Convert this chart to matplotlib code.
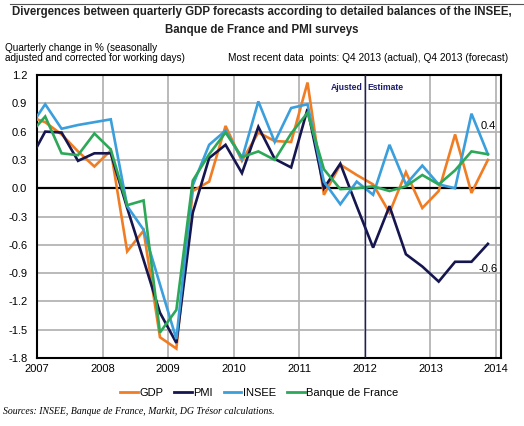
import numpy as np
import matplotlib.pyplot as plt
from matplotlib.lines import Line2D

plt.rcParams['font.family'] = ['Liberation Sans', 'DejaVu Sans']

# quarterly points, plotted mid-quarter (Q4 2006 ... Q4 2013)
quarters = np.arange(2006.875, 2014.0, 0.25)

gdp = [0.76, 0.70, 0.57, 0.39, 0.23, 0.40, -0.67, -0.45, -1.58, -1.70, -0.03, 0.07, 0.66, 0.29,
       0.59, 0.50, 0.49, 1.12, -0.07, 0.25, 0.14, 0.04, -0.26, 0.17, -0.21, -0.03, 0.57, -0.05, 0.30]
pmi = [0.28, 0.60, 0.59, 0.29, 0.37, 0.37, -0.21, -0.76, -1.32, -1.64, -0.26, 0.32, 0.46, 0.16,
       0.65, 0.31, 0.22, 0.84, 0.00, 0.26, -0.19, -0.63, -0.19, -0.70, -0.83, -0.99, -0.78, -0.78, -0.59]
insee = [0.63, 0.89, 0.63, 0.67, 0.70, 0.73, -0.19, -0.44, -1.02, -1.60, 0.03, 0.46, 0.61, 0.31,
         0.92, 0.49, 0.85, 0.89, 0.07, -0.17, 0.07, -0.07, 0.46, 0.04, 0.24, 0.04, 0.00, 0.79, 0.36]
bdf = [0.56, 0.76, 0.37, 0.35, 0.58, 0.41, -0.18, -0.13, -1.53, -1.29, 0.08, 0.36, 0.59, 0.33,
       0.39, 0.30, 0.58, 0.80, 0.20, -0.01, 0.00, 0.02, -0.03, 0.02, 0.14, 0.04, 0.19, 0.39, 0.36]

names = ['GDP', 'PMI', 'INSEE', 'Banque de France']
colors = ['#f07d24', '#15154f', '#3a9fdc', '#2da858']
years = list(range(2007, 2015))
yticks = np.arange(-1.8, 1.21, 0.3)

fig = plt.figure(figsize=(5.24, 4.26), dpi=100)
ax = fig.add_axes([37/524, 1 - 358/426, (501 - 37)/524, (358 - 75)/426])

for vals, c in zip([gdp, pmi, insee, bdf], colors):
    ax.plot(quarters, vals, color=c, lw=1.9, solid_joinstyle='miter', zorder=3)

ax.axhline(0, color='black', lw=1.6, zorder=2)
ax.axvline(2012, color='#1c1c6e', lw=1.0, zorder=4)
ax.text(2011.96, 1.07, 'Ajusted', ha='right', va='center', fontsize=6.2,
        fontweight='bold', color='#1c1c6e')
ax.text(2012.04, 1.07, 'Estimate', ha='left', va='center', fontsize=6.2,
        fontweight='bold', color='#1c1c6e')
ax.text(2013.88, 0.66, '0.4', ha='center', va='center', fontsize=8)
ax.text(2013.88, -0.86, '-0.6', ha='center', va='center', fontsize=8)

ax.set_xlim(2007, 2014.075)
ax.set_ylim(-1.8, 1.2)
ax.set_xticks(years)
ax.set_yticks(yticks)
ax.set_yticklabels(['%.1f' % v if abs(v) > 1e-9 else '0.0' for v in yticks])
ax.grid(True, color='#b4b4b4', lw=1.3, zorder=0)
ax.set_axisbelow(True)
ax.tick_params(length=0, labelsize=8, pad=4)
ax.tick_params(axis='y', pad=7)
for s in ax.spines.values():
    s.set_linewidth(1.5)
    s.set_color('black')

fig.text(0.5, 1 - 12/426, 'Divergences between quarterly GDP forecasts according to detailed balances of the INSEE,',
         ha='center', va='center', fontsize=8.3, fontweight='bold', color='#222222')
fig.text(0.5, 1 - 30/426, 'Banque de France and PMI surveys',
         ha='center', va='center', fontsize=8.3, fontweight='bold', color='#222222')
fig.add_artist(Line2D([10/524, 1], [1 - 4/426, 1 - 4/426], color='#555555', lw=0.8))

fig.text(5/524, 1 - 53/426, 'Quarterly change in % (seasonally\nadjusted and corrected for working days)',
         ha='left', va='center', fontsize=7.2, linespacing=1.05)
fig.text(228/524, 1 - 58/426, 'Most recent data  points: Q4 2013 (actual), Q4 2013 (forecast)',
         ha='left', va='center', fontsize=7.3)

handles = [Line2D([], [], color=c, lw=2.0) for c in colors]
fig.legend(handles, names, loc='center', bbox_to_anchor=(259/524, 1 - 393/426), ncol=4,
           frameon=False, fontsize=8, handlelength=1.6, handletextpad=0.1, columnspacing=1.0)

fig.text(3/524, 1 - 412/426, 'Sources: INSEE, Banque de France, Markit, DG Trésor calculations.',
         ha='left', va='center', fontsize=7, style='italic', family='Liberation Serif')

fig.savefig('out.png', dpi=100)
